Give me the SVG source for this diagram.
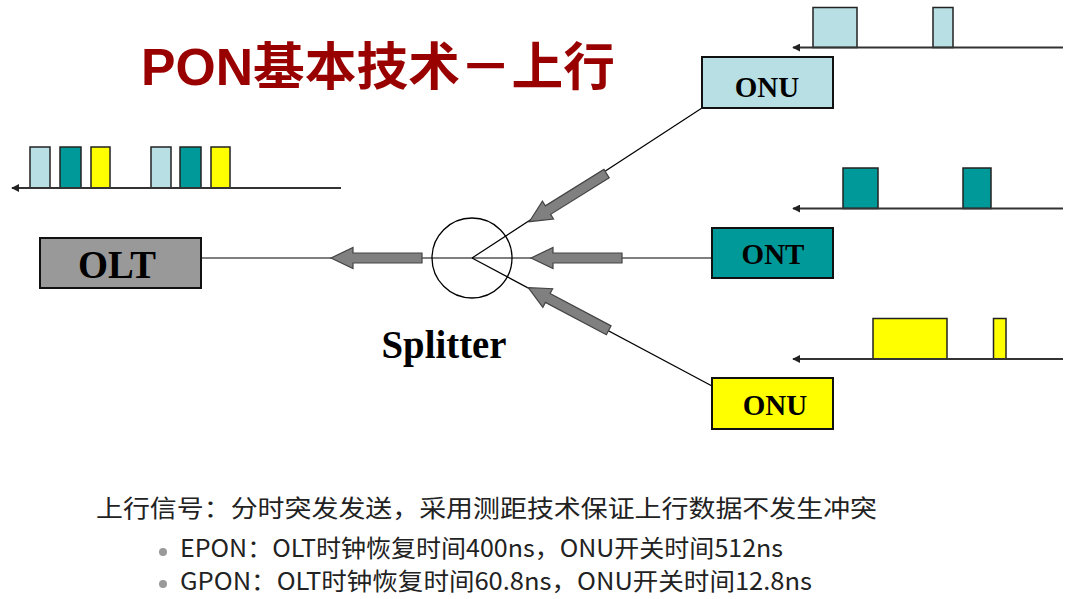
<svg xmlns="http://www.w3.org/2000/svg" width="1071" height="599" viewBox="0 0 1071 599">
<defs>
<style>
.box{stroke:#111;stroke-width:2}
.pulse{stroke:#222;stroke-width:1.5}
.axis{stroke:#333;stroke-width:2;fill:none}
.fiber{stroke:#000;stroke-width:1.2;fill:none}
.garrow{fill:#808080;stroke:#444;stroke-width:1.2}
.lbl{font-family:"Liberation Serif","Times New Roman",serif;font-weight:bold;fill:#000;text-anchor:middle}
.cn{font-family:"Noto Sans CJK SC",sans-serif;fill:#222;font-size:24px}
.lb{fill:#B8DFE4}.tl{fill:#009999}.ye{fill:#FFFF00}
</style>
<marker id="ah" viewBox="0 0 10 10" refX="9" refY="5" markerWidth="4" markerHeight="4" orient="auto">
<path d="M0,0 L10,5 L0,10 z" fill="#222"/>
</marker>
<polygon id="arr" class="garrow" points="0,0 22,-10.5 22,-5 91,-5 91,5 22,5 22,10.5"/>
</defs>
<rect width="1071" height="599" fill="#fff"/>

<text x="141" y="85" font-family="'Liberation Sans','Noto Sans CJK SC',sans-serif" font-weight="bold" font-size="51" fill="#990000" textLength="474" lengthAdjust="spacingAndGlyphs">PON基本技术－上行</text>

<g id="connectors">
<line class="fiber" x1="201" y1="258" x2="712" y2="258"/>
<line class="fiber" x1="472" y1="258" x2="702" y2="108"/>
<line class="fiber" x1="472" y1="258" x2="712" y2="386"/>
<use href="#arr" transform="translate(331,258)"/>
<use href="#arr" transform="translate(531,258)"/>
<use href="#arr" transform="translate(529.3,221.7) rotate(-31.9)"/>
<use href="#arr" transform="translate(528.3,287.7) rotate(27.9)"/>
</g>

<g id="splitter">
<circle cx="472" cy="258" r="40" fill="none" stroke="#000" stroke-width="1.3"/>
<text class="lbl" x="444" y="358" font-size="40" textLength="125" lengthAdjust="spacingAndGlyphs">Splitter</text>
</g>

<g id="olt">
<rect class="box" x="40" y="238" width="161" height="50" fill="#999999"/>
<text class="lbl" x="117" y="278" font-size="41" textLength="78" lengthAdjust="spacingAndGlyphs">OLT</text>
</g>

<g id="onu1">
<rect class="box" x="702" y="57" width="131" height="51" fill="#B8DFE4"/>
<text class="lbl" x="767" y="97" font-size="29">ONU</text>
</g>

<g id="ont">
<rect class="box" x="712" y="228" width="121" height="50" fill="#009999"/>
<text class="lbl" x="773" y="264" font-size="29">ONT</text>
</g>

<g id="onu2">
<rect class="box" x="712" y="378" width="121" height="51" fill="#FFFF00"/>
<text class="lbl" x="775" y="415" font-size="29">ONU</text>
</g>

<g id="olt-signal">
<rect class="pulse lb" x="30" y="147" width="20" height="41"/>
<rect class="pulse tl" x="60" y="147" width="21" height="41"/>
<rect class="pulse ye" x="91" y="147" width="19" height="41"/>
<rect class="pulse lb" x="151" y="147" width="20" height="41"/>
<rect class="pulse tl" x="180" y="147" width="21" height="41"/>
<rect class="pulse ye" x="211" y="147" width="19" height="41"/>
<line class="axis" x1="341" y1="188" x2="12" y2="188" marker-end="url(#ah)"/>
</g>

<g id="onu1-signal">
<rect class="pulse lb" x="813" y="7.5" width="44" height="40"/>
<rect class="pulse lb" x="933" y="7.5" width="20" height="40"/>
<line class="axis" x1="1063" y1="47.5" x2="793" y2="47.5" marker-end="url(#ah)"/>
</g>

<g id="ont-signal">
<rect class="pulse tl" x="843" y="168" width="35" height="40.5"/>
<rect class="pulse tl" x="963" y="168" width="28" height="40.5"/>
<line class="axis" x1="1063" y1="208.5" x2="793" y2="208.5" marker-end="url(#ah)"/>
</g>

<g id="onu2-signal">
<rect class="pulse ye" x="873" y="318.5" width="74" height="40.5"/>
<rect class="pulse ye" x="993.5" y="318.5" width="12.5" height="40.5"/>
<line class="axis" x1="1063" y1="359" x2="793" y2="359" marker-end="url(#ah)"/>
</g>

<g id="notes">
<text class="cn" x="96" y="517" textLength="781" lengthAdjust="spacingAndGlyphs">上行信号：分时突发发送，采用测距技术保证上行数据不发生冲突</text>
<circle cx="163" cy="552" r="4" fill="#999"/>
<text class="cn" x="180" y="557" textLength="603" lengthAdjust="spacingAndGlyphs">EPON：OLT时钟恢复时间400ns，ONU开关时间512ns</text>
<circle cx="163" cy="584" r="4" fill="#999"/>
<text class="cn" x="180" y="590" textLength="632" lengthAdjust="spacingAndGlyphs">GPON：OLT时钟恢复时间60.8ns，ONU开关时间12.8ns</text>
</g>
</svg>
